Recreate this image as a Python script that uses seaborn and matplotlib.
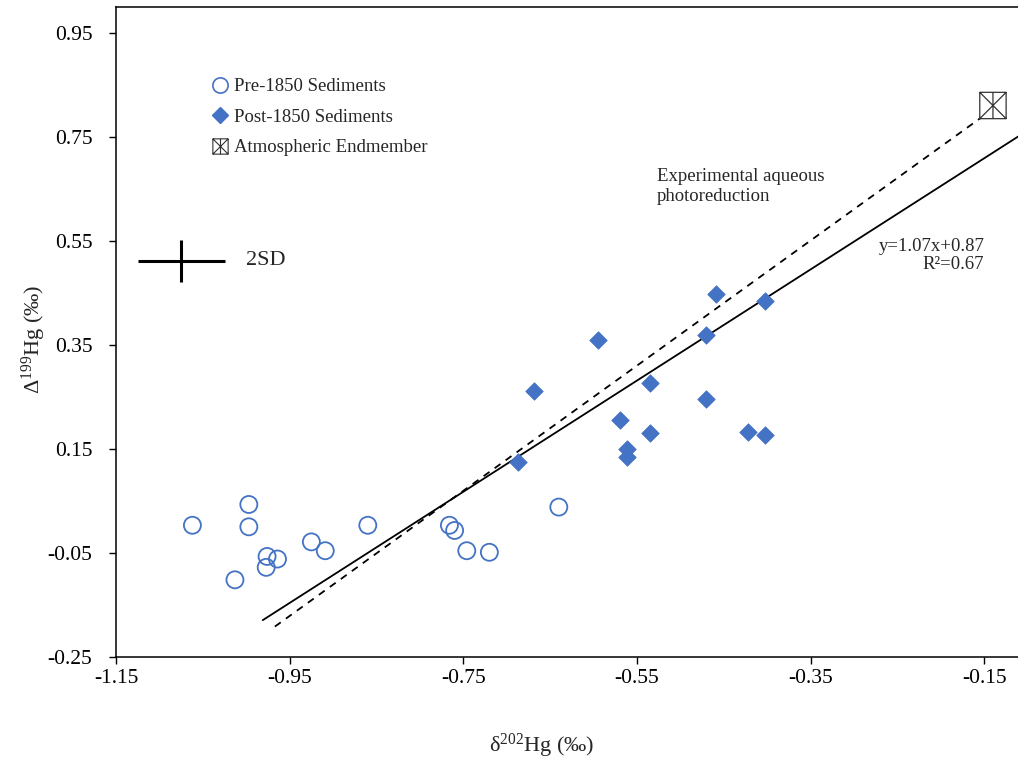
import numpy as np
import pandas as pd
import matplotlib
matplotlib.use("Agg")
import matplotlib.pyplot as plt
from matplotlib.path import Path
from matplotlib.lines import Line2D
import seaborn as sns

# ---------------- data ----------------
pre_x = [-1.062, -0.997, -0.997, -0.976, -0.964, -0.977, -1.013, -0.925,
         -0.909, -0.860, -0.766, -0.760, -0.746, -0.720, -0.640]
pre_y = [0.003, 0.043, 0.000, -0.057, -0.062, -0.078, -0.102, -0.029,
         -0.046, 0.003, 0.003, -0.007, -0.046, -0.049, 0.038]

post_x = [-0.459, -0.403, -0.595, -0.471, -0.669, -0.535, -0.471,
          -0.570, -0.535, -0.422, -0.403, -0.562, -0.562, -0.687]
post_y = [0.449, 0.435, 0.360, 0.370, 0.261, 0.276, 0.246,
          0.205, 0.181, 0.183, 0.177, 0.149, 0.135, 0.124]

atm_x = [-0.140]
atm_y = [0.811]

fit_slope = 1.07
fit_intercept = 0.87
fit_x = [-0.981, -0.09]

photo_x = [-0.967, -0.155]
photo_y = [-0.192, 0.786]

sd_x, sd_y = [-1.075], [0.512]
sd_xerr, sd_yerr = 0.05, 0.041

xticks = [-1.15, -0.95, -0.75, -0.55, -0.35, -0.15]
xtick_labels = ["-1.15", "-0.95", "-0.75", "-0.55", "-0.35", "-0.15"]
yticks = [-0.25, -0.05, 0.15, 0.35, 0.55, 0.75, 0.95]
ytick_labels = ["-0.25", "-0.05", "0.15", "0.35", "0.55", "0.75", "0.95"]

labels = ["Pre-1850 Sediments", "Post-1850 Sediments", "Atmospheric Endmember"]

# ---------------- style ----------------
sns.set_style("ticks")
plt.rcParams["font.family"] = ["Liberation Serif", "DejaVu Serif"]
plt.rcParams["mathtext.fontset"] = "custom"
plt.rcParams["mathtext.rm"] = "Liberation Serif"
plt.rcParams["mathtext.it"] = "Liberation Serif:italic"
plt.rcParams["axes.unicode_minus"] = False

blue = "#4472C4"

fig = plt.figure(figsize=(10.18, 7.59), dpi=100)
ax = fig.add_axes([116 / 1018, (759 - 656.7) / 759, 903 / 1018, (656.7 - 7.3) / 759])

pre_df = pd.DataFrame({"x": pre_x, "y": pre_y})
post_df = pd.DataFrame({"x": post_x, "y": post_y})
atm_df = pd.DataFrame({"x": atm_x, "y": atm_y})

# regression line and photoreduction line
fit_y = [fit_slope * v + fit_intercept for v in fit_x]
sns.lineplot(x=fit_x, y=fit_y, ax=ax, color="black", linewidth=1.3, zorder=2)
ax.plot(photo_x, photo_y, color="black", linewidth=1.3, linestyle=(0, (4, 3.5)), zorder=2)

sns.scatterplot(data=pre_df, x="x", y="y", ax=ax, marker="o", s=150,
                facecolor="none", edgecolor=blue, linewidth=1.3, zorder=3)
sns.scatterplot(data=post_df, x="x", y="y", ax=ax, marker="D", s=80,
                color=blue, edgecolor=blue, linewidth=0.5, zorder=3)

box_path = Path(
    [(-1, -1), (1, -1), (1, 1), (-1, 1), (-1, -1),
     (-1, -1), (1, 1), (-1, 1), (1, -1), (0, -1), (0, 1)],
    [Path.MOVETO, Path.LINETO, Path.LINETO, Path.LINETO, Path.CLOSEPOLY,
     Path.MOVETO, Path.LINETO, Path.MOVETO, Path.LINETO, Path.MOVETO, Path.LINETO])
sns.scatterplot(data=atm_df, x="x", y="y", ax=ax, marker=box_path, s=360,
                facecolor="none", edgecolor="#333333", linewidth=0.9, zorder=3)

# 2SD cross
ax.errorbar(sd_x, sd_y, xerr=sd_xerr, yerr=sd_yerr, fmt="none",
            ecolor="black", elinewidth=2.2, capsize=0)
ax.text(-1.0, 0.512, "2SD", fontsize=16, va="center", ha="left")

# annotations
ax.text(-0.527, 0.655, "Experimental aqueous\nphotoreduction", fontsize=13.5,
        ha="left", va="center", linespacing=1.2)
ax.text(-0.15, 0.522, "y=1.07x+0.87\nR\u00b2=0.67", fontsize=13.5,
        ha="right", va="center", multialignment="right", linespacing=1.1)

# legend
handles = [
    Line2D([], [], linestyle="none", marker="o", markersize=11,
           markerfacecolor="none", markeredgecolor=blue, markeredgewidth=1.2),
    Line2D([], [], linestyle="none", marker="D", markersize=8,
           markerfacecolor=blue, markeredgecolor=blue),
    Line2D([], [], linestyle="none", marker=box_path, markersize=11,
           markerfacecolor="none", markeredgecolor="#333333", markeredgewidth=0.8),
]
leg = ax.legend(handles, labels, loc="upper left", bbox_to_anchor=(0.1072, 0.8908),
                frameon=False, fontsize=13.5, handlelength=0.8, handletextpad=0.35,
                labelspacing=0.71, borderaxespad=0, borderpad=0)

# axes
ax.set_xlim(-1.15, -0.11)
ax.set_ylim(-0.25, 1.0)
ax.set_xticks(xticks)
ax.set_xticklabels(xtick_labels)
ax.set_yticks(yticks)
ax.set_yticklabels(ytick_labels)
ax.tick_params(axis="both", direction="out", length=5, width=1.0, labelsize=15.5,
               color="black", labelcolor="black")
ax.tick_params(axis="y", pad=12)
ax.tick_params(axis="x", pad=4)
for side in ["left", "bottom", "top"]:
    ax.spines[side].set_linewidth(1.1)
    ax.spines[side].set_color("black")
ax.spines["right"].set_visible(False)

ax.set_xlabel("\u03b4$^{202}$Hg (\u2030)", fontsize=16)
ax.set_ylabel("\u0394$^{199}$Hg (\u2030)", fontsize=16)
ax.xaxis.set_label_coords(0.471, -0.115)
ax.yaxis.set_label_coords(-0.075, 0.488)

fig.savefig("out.png", dpi=100)
